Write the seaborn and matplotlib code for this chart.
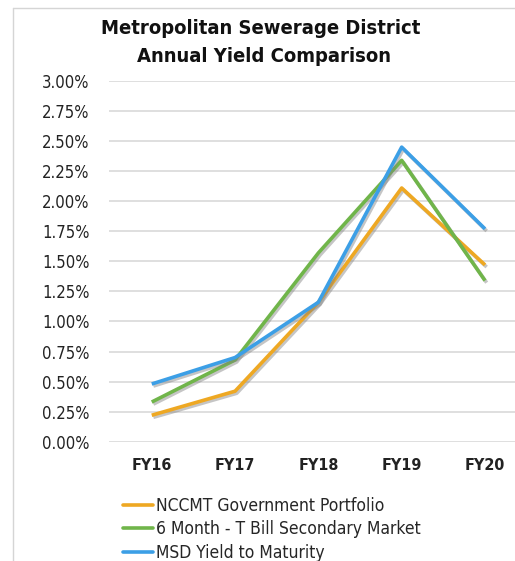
import numpy as np
import pandas as pd
import matplotlib
matplotlib.use("Agg")
import matplotlib.pyplot as plt
import matplotlib.patheffects as pe
from matplotlib.lines import Line2D
import seaborn as sns

# values (percent)
years = ["FY16", "FY17", "FY18", "FY19", "FY20"]
nccmt = [0.22, 0.42, 1.16, 2.11, 1.47]
tbill = [0.33, 0.68, 1.57, 2.34, 1.34]
msd = [0.48, 0.70, 1.16, 2.45, 1.77]
series_names = ["NCCMT Government Portfolio",
                "6 Month - T Bill Secondary Market",
                "MSD Yield to Maturity"]
colors = ["#EEA823", "#70B54A", "#3C9FE6"]
ytick_vals = [0.0, 0.25, 0.5, 0.75, 1.0, 1.25, 1.5, 1.75, 2.0, 2.25, 2.5, 2.75, 3.0]

df = pd.DataFrame({
    "year": years * 3,
    "value": nccmt + tbill + msd,
    "series": [series_names[0]] * 5 + [series_names[1]] * 5 + [series_names[2]] * 5,
})

sns.set_theme(style="white")
plt.rcParams["font.family"] = ["DejaVu Sans"]
plt.rcParams["font.stretch"] = "condensed"

W, H = 515, 561
fig = plt.figure(figsize=(W / 100, H / 100), dpi=100)
ax = fig.add_axes([109 / W, 1 - 441.7 / H, 406 / W, (441.7 - 81) / H])

sns.lineplot(data=df, x="year", y="value", hue="series", palette=colors,
             linewidth=2.6, ax=ax, legend=False, sort=False)

# soft drop shadow like the original
shadow = [pe.SimpleLineShadow(offset=(1.2, -1.5), shadow_color="gray", alpha=0.45),
          pe.Normal()]
for ln in ax.get_lines():
    ln.set_path_effects(shadow)
    ln.set_solid_capstyle("butt")

ax.set_xlim(-0.513, 4.36)
ax.set_ylim(0, 3.0)
ax.set_yticks(ytick_vals)
ax.set_yticklabels([f"{v:.2f}%" for v in ytick_vals], fontsize=12, color="#222222")
ax.set_xticks(range(len(years)))
ax.set_xticklabels(years, fontsize=11.5, color="#222222", fontweight="bold")
ax.tick_params(axis="y", length=0, pad=14)
ax.tick_params(axis="x", length=0, pad=12)
ax.grid(axis="y", color="#DCDCDC", linewidth=1.3)
ax.set_axisbelow(True)
for s in ax.spines.values():
    s.set_visible(False)
ax.set_xlabel("")
ax.set_ylabel("")

# title
fig.text(261 / W, 1 - 28 / H, "Metropolitan Sewerage District", ha="center", va="center",
         fontsize=14.5, fontweight="bold", color="#111111")
fig.text(264 / W, 1 - 57 / H, "Annual Yield Comparison", ha="center", va="center",
         fontsize=14.5, fontweight="bold", color="#111111")

# outer frame (left and top edges visible)
fig.add_artist(Line2D([12.5 / W, 12.5 / W], [0, 1 - 8 / H], transform=fig.transFigure,
                      color="#D5D5D5", linewidth=1))
fig.add_artist(Line2D([12.5 / W, 1], [1 - 8 / H, 1 - 8 / H], transform=fig.transFigure,
                      color="#D5D5D5", linewidth=1))

handles = [Line2D([], [], color=c, linewidth=2.6) for c in colors]
fig.legend(handles, series_names, loc="upper left", bbox_to_anchor=(116 / W, 1 - 490 / H),
           frameon=False, fontsize=12.5, handlelength=1.75, handletextpad=0.15,
           labelspacing=0.32, borderaxespad=0)

fig.savefig("out.png", dpi=100)
